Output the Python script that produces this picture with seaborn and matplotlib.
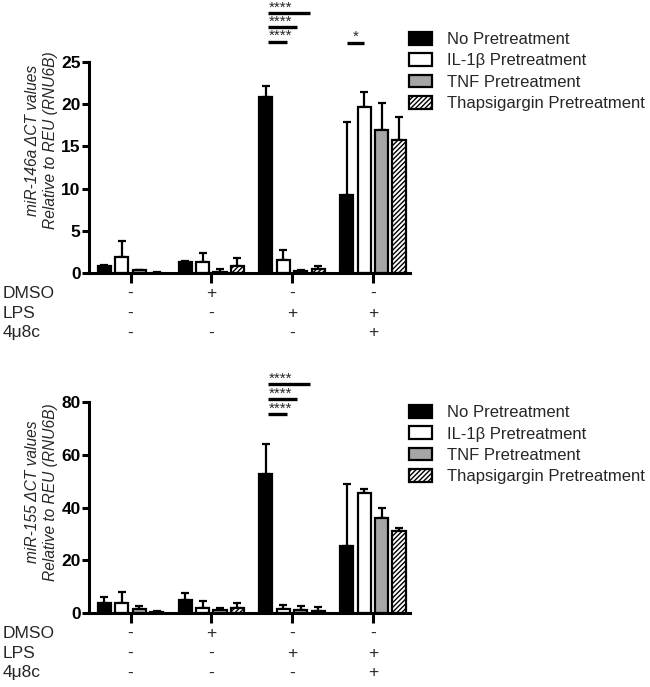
import numpy as np
import pandas as pd
import matplotlib
matplotlib.use("Agg")
import matplotlib.pyplot as plt
import matplotlib.transforms as mtransforms
import seaborn as sns

# ---------------- data ----------------
conditions = ["Control", "DMSO", "LPS", "LPS + 4μ8c"]
pretreatments = ["No Pretreatment", "IL-1β Pretreatment",
                 "TNF Pretreatment", "Thapsigargin Pretreatment"]

# miR-146a means and (upper) SD
mir146_no = [0.85, 1.25, 20.9, 9.3]
mir146_il1b = [1.9, 1.35, 1.55, 19.7]
mir146_tnf = [0.3, 0.15, 0.25, 17.0]
mir146_thap = [0.05, 0.85, 0.45, 15.8]
mir146_no_sd = [0.15, 0.15, 1.2, 8.6]
mir146_il1b_sd = [1.9, 1.05, 1.15, 1.8]
mir146_tnf_sd = [0.1, 0.3, 0.1, 3.1]
mir146_thap_sd = [0.05, 0.9, 0.35, 2.7]

# miR-155 means and (upper) SD
mir155_no = [3.7, 5.05, 52.6, 25.4]
mir155_il1b = [3.8, 2.0, 1.4, 45.5]
mir155_tnf = [1.4, 1.0, 1.3, 36.0]
mir155_thap = [0.5, 1.9, 0.75, 31.1]
mir155_no_sd = [2.2, 2.55, 11.3, 23.5]
mir155_il1b_sd = [4.3, 2.4, 1.6, 1.5]
mir155_tnf_sd = [1.4, 1.0, 1.35, 3.8]
mir155_thap_sd = [0.2, 1.9, 1.4, 1.1]

# treatment table
row_labels = ["DMSO", "LPS", "4μ8c"]
dmso_row = ["-", "+", "-", "-"]
lps_row = ["-", "-", "+", "+"]
inh_row = ["-", "-", "-", "+"]

ylabel_146 = "miR-146a ΔCT values\nRelative to REU (RNU6B)"
ylabel_155 = "miR-155 ΔCT values\nRelative to REU (RNU6B)"
yticks_146 = [0, 5, 10, 15, 20, 25]
yticks_155 = [0, 20, 40, 60, 80]

# significance annotations: (group, start offset, end offset, y, label)
sig_146 = [(2, -0.30, -0.06, 27.4, "****"), (2, -0.30, 0.06, 29.1, "****"),
           (2, -0.30, 0.22, 30.8, "****"), (3, -0.32, -0.11, 27.3, "*")]
sig_155 = [(2, -0.30, -0.06, 75.4, "****"), (2, -0.30, 0.06, 81.1, "****"),
           (2, -0.30, 0.22, 86.8, "****")]

# ---------------- style ----------------
sns.set_style("ticks")
plt.rcParams["font.family"] = ["Liberation Sans", "DejaVu Sans"]
plt.rcParams["hatch.linewidth"] = 1.0
plt.rcParams["hatch.color"] = "#333333"

colors = ["#000000", "#ffffff", "#a6a6a6", "#ffffff"]


def make_df(means, sds):
    rows = []
    for p, m, s in zip(pretreatments, means, sds):
        for c, mv, sv in zip(conditions, m, s):
            rows.append({"condition": c, "pretreatment": p, "value": mv, "sd": sv})
    return pd.DataFrame(rows)


df146 = make_df([mir146_no, mir146_il1b, mir146_tnf, mir146_thap],
                [mir146_no_sd, mir146_il1b_sd, mir146_tnf_sd, mir146_thap_sd])
df155 = make_df([mir155_no, mir155_il1b, mir155_tnf, mir155_thap],
                [mir155_no_sd, mir155_il1b_sd, mir155_tnf_sd, mir155_thap_sd])

W, H = 650, 687
fig = plt.figure(figsize=(W / 100, H / 100), dpi=100)
ax1 = fig.add_axes([89 / W, 1 - 273 / H, 321 / W, 211 / H])
ax2 = fig.add_axes([89 / W, 1 - 613 / H, 321 / W, 211 / H])


def draw_panel(ax, df, ylim, yticks, ylabel, label_y, sigs, legend_top):
    sns.barplot(data=df, x="condition", y="value", hue="pretreatment",
                order=conditions, hue_order=pretreatments, palette=colors,
                edgecolor="black", linewidth=1.6, errorbar=None,
                width=0.864, gap=0.25, legend=False, ax=ax, zorder=2)
    bar_conts = list(ax.containers)
    # hatch for thapsigargin
    for patch in bar_conts[3].patches:
        patch.set_hatch("///////")
    # error bars (upper only)
    for cont, p in zip(bar_conts, pretreatments):
        sub = df[df["pretreatment"] == p].set_index("condition").loc[conditions]
        xs = [b.get_x() + b.get_width() / 2 for b in cont.patches]
        ys = sub["value"].to_numpy()
        es = sub["sd"].to_numpy()
        ax.errorbar(xs, ys, yerr=[np.zeros_like(es), es], fmt="none",
                    ecolor="black", elinewidth=1.6, capsize=3, capthick=1.6,
                    zorder=1, clip_on=False)
    ax.set_xlim(-0.514, 3.46)
    ax.set_ylim(*ylim)
    ax.set_yticks(yticks)
    ax.set_yticklabels([str(t) for t in yticks], fontsize=12.5, fontweight="bold")
    ax.set_xticks(range(len(conditions)))
    ax.set_xticklabels([])
    ax.set_xlabel("")
    ax.set_ylabel(ylabel, fontsize=11.2, fontstyle="italic", linespacing=1.25,
                  multialignment="center")
    ax.yaxis.set_label_coords(-0.097, label_y)
    sns.despine(ax=ax)
    for s in ("left", "bottom"):
        ax.spines[s].set_linewidth(2.2)
        ax.spines[s].set_color("black")
    ax.tick_params(axis="y", direction="out", length=5, width=2.2, pad=1, colors="black")
    ax.tick_params(axis="x", direction="out", length=7, width=2.2, colors="black")

    # significance bars
    star_tr = mtransforms.offset_copy(ax.transData, fig=fig, x=0, y=1.5, units="dots")
    for g, a, b, y, lab in sigs:
        ax.plot([g + a, g + b], [y, y], color="black", lw=2.4,
                solid_capstyle="butt", clip_on=False)
        xc = g + a + 0.16 if len(lab) > 1 else g + (a + b) / 2
        ax.text(xc, y, lab, ha="center", va="baseline", fontsize=11,
                transform=star_tr)

    # treatment table
    trans_rows = mtransforms.blended_transform_factory(fig.transFigure, ax.transAxes)
    trans_vals = ax.get_xaxis_transform()
    row_y = [-0.095, -0.19, -0.284]
    for lab, vals, yy in zip(row_labels, [dmso_row, lps_row, inh_row], row_y):
        ax.text(3 / W, yy, lab, transform=trans_rows, ha="left", va="center",
                fontsize=12.5)
        for i, v in enumerate(vals):
            ax.text(i, yy, v, transform=trans_vals, ha="center", va="center",
                    fontsize=12.5)

    handles = [c.patches[0] for c in bar_conts]
    ax.legend(handles, pretreatments, loc="upper left",
              bbox_to_anchor=(409 / W, 1 - legend_top / H),
              bbox_transform=fig.transFigure, frameon=False, fontsize=12,
              borderpad=0, borderaxespad=0, handlelength=1.4, handleheight=0.8,
              handletextpad=0.9, labelspacing=0.37)


draw_panel(ax1, df146, (0, 25), yticks_146, ylabel_146, 0.63, sig_146, 32)
draw_panel(ax2, df155, (0, 80), yticks_155, ylabel_155, 0.573, sig_155, 405)

fig.savefig("out.png", dpi=100)
